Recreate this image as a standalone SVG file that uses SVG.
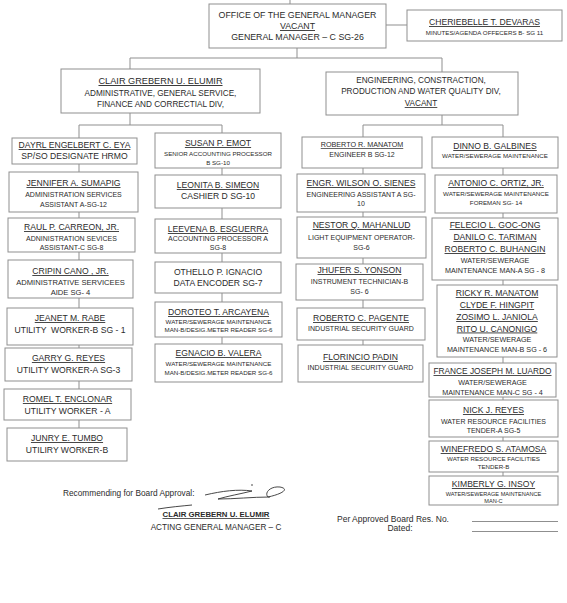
<svg xmlns="http://www.w3.org/2000/svg" width="567" height="603" viewBox="0 0 567 603">
<style>
text{font-family:"Liberation Sans",Arial,sans-serif;fill:#2b2b2b;text-anchor:middle}
.b{fill:#fff;stroke:#8f8f8f;stroke-width:1}
.c{stroke:#8f8f8f;stroke-width:1;fill:none}
.n{font-size:8.6px;text-decoration:underline}
.t{font-size:8.6px}
.m{font-size:7.6px}
.s{font-size:7px}
.xs{font-size:6.2px}
.xxs{font-size:5.6px}
.h{font-size:8.8px}
.d{font-size:8.2px}
</style>
<rect width="567" height="603" fill="#fff"/>
<g id="connectors">
<path class="c" d="M290,0V4M297,48V58M130,58H442M130,58V69M442,58V72M386,25H407"/>
<path class="c" d="M130,113V125M79,125H222M442,115V125M363,125H503"/>
<path class="c" d="M79,125V428M222,125V344M363,125V345M503,125V476"/>
</g>
<g id="gm"><rect class="b" x="209" y="4" width="177" height="44"/>
<text class="h" x="297.5" y="18">OFFICE OF THE GENERAL MANAGER</text>
<text class="h" x="297.5" y="29" text-decoration="underline">VACANT</text>
<text class="h" x="297.5" y="40">GENERAL MANAGER – C SG-26</text></g>
<g id="devaras"><rect class="b" x="407" y="10" width="155" height="31"/>
<text class="n" x="484.5" y="25">CHERIEBELLE T. DEVARAS</text>
<text class="xs" x="484.5" y="35">MINUTES/AGENDA OFFECERS B- SG 11</text></g>
<g id="admin"><rect class="b" x="61" y="69" width="199" height="44"/>
<text class="n" x="160.5" y="84" style="font-size:9.2px">CLAIR GREBERN U. ELUMIR</text>
<text class="d" x="160.5" y="96">ADMINISTRATIVE, GENERAL SERVICE,</text>
<text class="d" x="160.5" y="107">FINANCE AND CORRECTIAL DIV,</text></g>
<g id="eng"><rect class="b" x="326" y="72" width="192" height="43"/>
<text class="d" x="421" y="83">ENGINEERING, CONSTRACTION,</text>
<text class="d" x="421" y="94">PRODUCTION AND WATER QUALITY DIV,</text>
<text class="d" x="421" y="106" text-decoration="underline">VACANT</text></g>

<g id="eya"><rect class="b" x="12" y="138" width="125" height="26"/>
<text class="n" x="74.5" y="148">DAYRL ENGELBERT C. EYA</text>
<text class="t" x="74.5" y="159">SP/SO DESIGNATE HRMO</text></g>
<g id="sumapig"><rect class="b" x="9" y="172" width="129" height="40"/>
<text class="n" x="73.5" y="186">JENNIFER A. SUMAPIG</text>
<text class="s" x="73.5" y="197">ADMINISTRATION SERVICES</text>
<text class="s" x="73.5" y="207">ASSISTANT A-SG-12</text></g>
<g id="carreon"><rect class="b" x="8" y="218" width="127" height="34"/>
<text class="n" x="71.5" y="230">RAUL P. CARREON, JR.</text>
<text class="s" x="71.5" y="240.5">ADNINISTRATION SEVICES</text>
<text class="s" x="71.5" y="250">ASSISTANT-C SG-8</text></g>
<g id="cano"><rect class="b" x="8" y="260" width="125" height="38"/>
<text class="n" x="70.5" y="274">CRIPIN CANO , JR.</text>
<text class="m" x="70.5" y="285">ADMINISTRATIVE SERVICEES</text>
<text class="m" x="70.5" y="295">AIDE SG- 4</text></g>
<g id="rabe"><rect class="b" x="7" y="308" width="126" height="37"/>
<text class="n" x="70" y="321">JEANET M. RABE</text>
<text class="t" x="70" y="333" xml:space="preserve">UTILITY  WORKER-B SG - 1</text></g>
<g id="reyes-g"><rect class="b" x="5" y="348" width="127" height="33"/>
<text class="n" x="68.5" y="361">GARRY G. REYES</text>
<text class="t" x="68.5" y="373">UTILITY WORKER-A SG-3</text></g>
<g id="enclonar"><rect class="b" x="4" y="389" width="127" height="31"/>
<text class="n" x="67.5" y="402">ROMEL T. ENCLONAR</text>
<text class="t" x="67.5" y="414">UTILITY WORKER - A</text></g>
<g id="tumbo"><rect class="b" x="7" y="428" width="120" height="33"/>
<text class="n" x="67" y="441">JUNRY E. TUMBO</text>
<text class="t" x="67" y="453">UTILIRY WORKER-B</text></g>

<g id="emot"><rect class="b" x="155" y="133" width="126" height="35"/>
<text class="n" x="218" y="146">SUSAN P. EMOT</text>
<text class="xs" x="218" y="155.5">SENIOR ACCOUNTING PROCESSOR</text>
<text class="xs" x="218" y="164.5">B SG-10</text></g>
<g id="simeon"><rect class="b" x="155" y="175" width="126" height="33"/>
<text class="n" x="218" y="188">LEONITA B. SIMEON</text>
<text class="t" x="218" y="199">CASHIER D SG-10</text></g>
<g id="esguerra"><rect class="b" x="155" y="219" width="126" height="34"/>
<text class="n" x="218" y="232">LEEVENA B. ESGUERRA</text>
<text class="s" x="218" y="241">ACCOUNTING PROCESSOR A</text>
<text class="s" x="218" y="250">SG-8</text></g>
<g id="ignacio"><rect class="b" x="155" y="262" width="126" height="31"/>
<text class="t" x="218" y="275">OTHELLO P. IGNACIO</text>
<text class="t" x="218" y="286">DATA ENCODER SG-7</text></g>
<g id="arcayena"><rect class="b" x="155" y="302" width="127" height="35"/>
<text class="n" x="218.5" y="315">DOROTEO T. ARCAYENA</text>
<text class="xs" x="218.5" y="324">WATER/SEWERAGE MAINTENANCE</text>
<text class="xs" x="218.5" y="332">MAN-B/DESIG.METER READER SG-6</text></g>
<g id="valera"><rect class="b" x="155" y="344" width="127" height="38"/>
<text class="n" x="218.5" y="356">EGNACIO B. VALERA</text>
<text class="xs" x="218.5" y="366">WATER/SEWERAGE MAINTENANCE</text>
<text class="xs" x="218.5" y="375">MAN-B/DESIG.METER READER SG-6</text></g>

<g id="manatom-r"><rect class="b" x="302" y="137" width="120" height="31"/>
<text class="s" x="362" y="147" text-decoration="underline" style="font-size:7.2px">ROBERTO R. MANATOM</text>
<text class="s" x="362" y="157">ENGINEER B SG-12</text></g>
<g id="sienes"><rect class="b" x="297" y="174" width="128" height="38"/>
<text class="n" x="361" y="186">ENGR. WILSON O. SIENES</text>
<text class="s" x="361" y="197">ENGINEERING ASSISTANT A SG-</text>
<text class="s" x="361" y="206">10</text></g>
<g id="mahanlud"><rect class="b" x="297" y="217" width="129" height="41"/>
<text class="n" x="361.5" y="228">NESTOR Q. MAHANLUD</text>
<text class="s" x="361.5" y="239.5">LIGHT EQUIPMENT OPERATOR-</text>
<text class="s" x="361.5" y="250">SG-6</text></g>
<g id="yonson"><rect class="b" x="296" y="264" width="127" height="36"/>
<text class="n" x="359.5" y="273">JHUFER S. YONSON</text>
<text class="s" x="359.5" y="284">INSTRUMENT TECHNICIAN-B</text>
<text class="s" x="359.5" y="294">SG- 6</text></g>
<g id="pagente"><rect class="b" x="297" y="308" width="128" height="32"/>
<text class="n" x="361" y="321">ROBERTO C. PAGENTE</text>
<text class="s" x="361" y="331">INDUSTRIAL SECURITY GUARD</text></g>
<g id="padin"><rect class="b" x="298" y="345" width="125" height="37"/>
<text class="n" x="360.5" y="360">FLORINCIO PADIN</text>
<text class="s" x="360.5" y="370">INDUSTRIAL SECURITY GUARD</text></g>

<g id="galbines"><rect class="b" x="432" y="137" width="126" height="31"/>
<text class="n" x="495" y="149">DINNO B. GALBINES</text>
<text class="xs" x="495" y="158">WATER/SEWERAGE MAINTENANCE</text></g>
<g id="ortiz"><rect class="b" x="435" y="175" width="122" height="38"/>
<text class="n" x="496" y="186">ANTONIO C. ORTIZ, JR.</text>
<text class="xs" x="496" y="196">WATER/SEWERAGE MAINTENANCE</text>
<text class="xs" x="496" y="205">FOREMAN SG- 14</text></g>
<g id="man-a"><rect class="b" x="432" y="218" width="126" height="62"/>
<text class="n" x="495" y="228">FELECIO L. GOC-ONG</text>
<text class="n" x="495" y="240">DANILO C. TARIMAN</text>
<text class="n" x="495" y="252">ROBERTO C. BUHANGIN</text>
<text class="s" x="495" y="263" style="font-size:7.2px">WATER/SEWERAGE</text>
<text class="s" x="495" y="273" style="font-size:7.2px">MAINTENANCE MAN-A SG - 8</text></g>
<g id="man-b"><rect class="b" x="437" y="285" width="120" height="72"/>
<text class="n" x="497" y="296">RICKY R. MANATOM</text>
<text class="n" x="497" y="308">CLYDE F. HINGPIT</text>
<text class="n" x="497" y="320">ZOSIMO L. JANIOLA</text>
<text class="n" x="497" y="331.5">RITO U. CANONIGO</text>
<text class="s" x="497" y="342" style="font-size:7.2px">WATER/SEWERAGE</text>
<text class="s" x="497" y="352" style="font-size:7.2px">MAINTENANCE MAN-B SG - 6</text></g>
<g id="luardo"><rect class="b" x="429" y="363" width="127" height="34"/>
<text class="n" x="492.5" y="374" style="font-size:8.3px">FRANCE JOSEPH M. LUARDO</text>
<text class="s" x="492.5" y="384.5" style="font-size:7.2px">WATER/SEWERAGE</text>
<text class="s" x="492.5" y="394.5" style="font-size:7.2px">MAINTENANCE MAN-C SG - 4</text></g>
<g id="reyes-n"><rect class="b" x="429" y="400" width="129" height="37"/>
<text class="n" x="493.5" y="413">NICK J. REYES</text>
<text class="s" x="493.5" y="424">WATER RESOURCE FACILITIES</text>
<text class="s" x="493.5" y="433">TENDER-A SG-5</text></g>
<g id="atamosa"><rect class="b" x="429" y="441" width="129" height="31"/>
<text class="n" x="493.5" y="452">WINEFREDO S. ATAMOSA</text>
<text class="xs" x="493.5" y="461">WATER RESOURCE FACILITIES</text>
<text class="xs" x="493.5" y="469">TENDER-B</text></g>
<g id="insoy"><rect class="b" x="429" y="476" width="129" height="29"/>
<text class="n" x="493.5" y="487">KIMBERLY G. INSOY</text>
<text class="xxs" x="493.5" y="495.5">WATER/SEWERAGE MAINTENANCE</text>
<text class="xxs" x="493.5" y="502.5">MAN-C</text></g>

<g id="footer">
<text x="63" y="496" style="text-anchor:start;font-size:8.3px">Recommending for Board Approval:</text>
<path d="M205,495 C222,491 238,489 252,491 C240,494 228,496 218,499 C235,499 252,497 270,497 M268,497 C282,494 290,489 280,487 C270,486 264,493 268,497 M158,509 C170,507 182,506 192,505" fill="none" stroke="#333" stroke-width="0.9"/>
<circle cx="252" cy="485" r="0.8" fill="#333"/>
<text x="216" y="517" style="font-size:7.8px;font-weight:bold;text-decoration:underline">CLAIR GREBERN U. ELUMIR</text>
<text x="216" y="530" style="font-size:8.2px">ACTING GENERAL MANAGER – C</text>
<text x="337" y="522" style="text-anchor:start;font-size:8.5px">Per Approved Board Res. No.</text>
<text x="400" y="531" style="font-size:8.5px">Dated:</text>
<path class="c" d="M472,521.5H558M472,531.5H558" stroke="#444"/>
</g>
</svg>
